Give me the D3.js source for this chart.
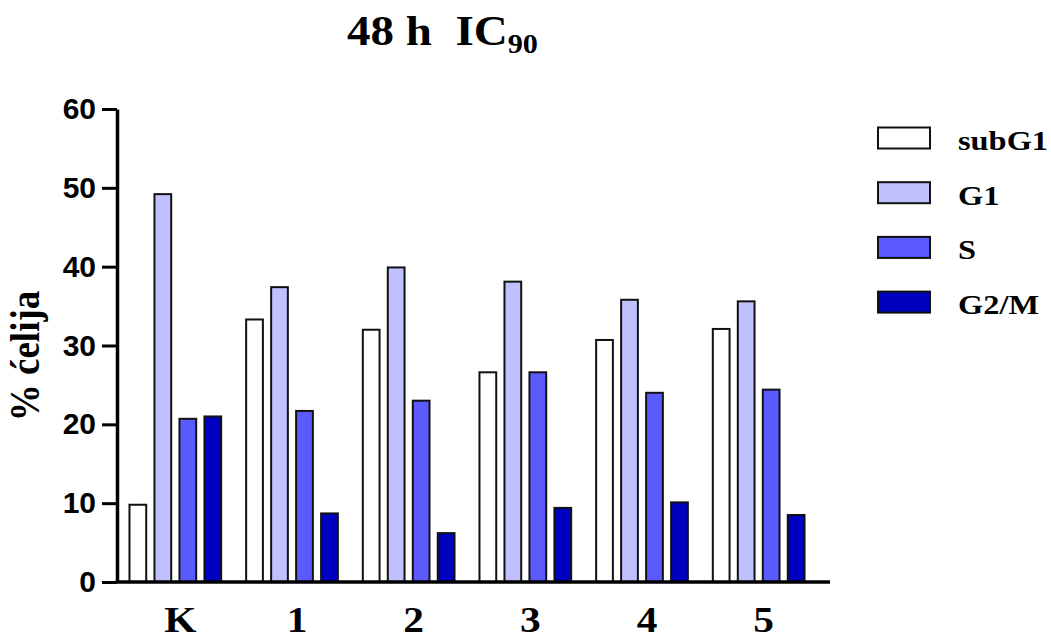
<!DOCTYPE html>
<html>
<head>
<meta charset="utf-8">
<script src="https://cdn.jsdelivr.net/npm/d3@7"></script>
<style>
  html, body { margin: 0; padding: 0; background: #fff; }
  svg { display: block; }
</style>
</head>
<body>
<script>
// Cell-cycle distribution after 48 h at IC90
const categories = ["K", "1", "2", "3", "4", "5"];
const seriesNames = ["subG1", "G1", "S", "G2/M"];
const subG1 = [9.8, 33.3, 32.0, 26.6, 30.7, 32.1];
const g1 = [49.2, 37.4, 39.9, 38.1, 35.8, 35.6];
const sPhase = [20.7, 21.7, 23.0, 26.6, 24.0, 24.4];
const g2m = [21.0, 8.7, 6.2, 9.4, 10.1, 8.5];
const yTicks = [0, 10, 20, 30, 40, 50, 60];
const seriesColors = ["#ffffff", "#c0c0ff", "#5a5aff", "#0000c0"];

const seriesValues = [subG1, g1, sPhase, g2m];
const rows = categories.map((c, i) => ({
  cat: c,
  vals: seriesNames.map((s, j) => ({ key: s, value: seriesValues[j][i] }))
}));

const W = 1051, H = 640;
const svg = d3.select("body").append("svg").attr("width", W).attr("height", H);

const serif = "'Liberation Serif', 'Times New Roman', serif";
const sans = "'Liberation Sans', Arial, sans-serif";

const axisX = 117, axisBottom = 582, axisTop = 109, axisRight = 830;

const y = d3.scaleLinear().domain([0, 60]).range([axisBottom, axisTop]);
const x0 = d3.scaleBand().domain(categories).range([axisX, 817])
  .paddingInner(0.214).paddingOuter(0.107);
const x1 = d3.scaleBand().domain(seriesNames).range([0, x0.bandwidth()])
  .paddingInner(0.33).paddingOuter(0);
const color = d3.scaleOrdinal().domain(seriesNames).range(seriesColors);

// Bars
const groups = svg.append("g").selectAll("g").data(rows).join("g")
  .attr("transform", d => `translate(${x0(d.cat)},0)`);
groups.selectAll("rect").data(d => d.vals).join("rect")
  .attr("x", d => x1(d.key))
  .attr("y", d => y(d.value))
  .attr("width", x1.bandwidth())
  .attr("height", d => y(0) - y(d.value))
  .attr("fill", d => color(d.key))
  .attr("stroke", "#111")
  .attr("stroke-width", 2);

// Y axis
const yAxis = svg.append("g")
  .attr("transform", `translate(${axisX},0)`)
  .call(d3.axisLeft(y).tickValues(yTicks).tickSize(15).tickSizeOuter(0).tickPadding(6));
yAxis.select(".domain").attr("stroke", "#000").attr("stroke-width", 3.5);
yAxis.selectAll(".tick line").attr("stroke", "#000").attr("stroke-width", 3);
yAxis.selectAll(".tick text")
  .attr("font-family", sans).attr("font-weight", "bold").attr("font-size", 30)
  .attr("fill", "#000");

// X axis: base line and category labels
svg.append("line")
  .attr("x1", axisX - 1.5).attr("x2", axisRight)
  .attr("y1", axisBottom).attr("y2", axisBottom)
  .attr("stroke", "#000").attr("stroke-width", 3.5);
const xAxis = svg.append("g")
  .attr("transform", `translate(0,${axisBottom})`)
  .call(d3.axisBottom(x0).tickSize(0));
xAxis.select(".domain").remove();
xAxis.selectAll(".tick text")
  .attr("font-family", serif).attr("font-weight", "bold").attr("font-size", 36)
  .attr("fill", "#000")
  .attr("dy", null).attr("y", null)
  .attr("transform", "translate(5,50) scale(1.15,1)");

// Y axis title
svg.append("text")
  .attr("transform", "translate(39,356) scale(1.15,1) rotate(-90)")
  .attr("text-anchor", "middle")
  .attr("font-family", serif).attr("font-weight", "bold").attr("font-size", 37)
  .text("% ćelija");

// Chart title
const title = svg.append("text")
  .attr("transform", "translate(347,45) scale(1.12,1)")
  .attr("font-family", serif).attr("font-weight", "bold").attr("font-size", 42);
title.append("tspan").text("48 h\u00a0\u00a0IC");
title.append("tspan").attr("font-size", 27).attr("dy", 8).text("90");

// Legend
const legend = svg.append("g").selectAll("g").data(seriesNames).join("g")
  .attr("transform", (d, i) => `translate(878,${138 + i * 54.7})`);
legend.append("rect")
  .attr("x", 0).attr("y", -10.5).attr("width", 52).attr("height", 21)
  .attr("fill", d => color(d)).attr("stroke", "#111").attr("stroke-width", 2);
legend.append("text")
  .attr("transform", "translate(80,12) scale(1.2,1)")
  .attr("font-family", serif).attr("font-weight", "bold").attr("font-size", 27)
  .text(d => d);
</script>
</body>
</html>
